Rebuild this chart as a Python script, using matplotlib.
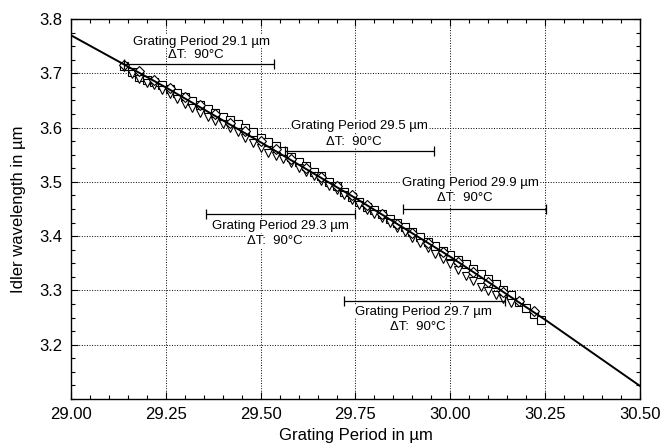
import numpy as np
import matplotlib
matplotlib.use("Agg")
import matplotlib.pyplot as plt
from matplotlib.ticker import MultipleLocator

plt.rcParams['font.family'] = ['Liberation Sans', 'DejaVu Sans']

# fitted tuning curve
fit_x = [29.00, 29.25, 29.50, 29.75, 30.00, 30.25, 30.50]
fit_y = [3.770, 3.674, 3.573, 3.470, 3.362, 3.246, 3.124]

# measured points, squares
sq_x = [29.14, 29.16, 29.18, 29.20, 29.22, 29.24, 29.26, 29.28, 29.30, 29.32,
        29.34, 29.36, 29.38, 29.40, 29.42, 29.44, 29.46, 29.48, 29.50, 29.52,
        29.54, 29.56, 29.58, 29.60, 29.62, 29.64, 29.66, 29.68, 29.70, 29.72,
        29.74, 29.76, 29.78, 29.80, 29.82, 29.84, 29.86, 29.88, 29.90, 29.92,
        29.94, 29.96, 29.98, 30.00, 30.02, 30.04, 30.06, 30.08, 30.10, 30.12,
        30.14, 30.16, 30.18, 30.20, 30.22, 30.24]
sq_y = [3.713, 3.703, 3.693, 3.688, 3.684, 3.678, 3.671, 3.664, 3.657, 3.649,
        3.641, 3.634, 3.627, 3.620, 3.614, 3.607, 3.600, 3.591, 3.581, 3.573,
        3.566, 3.556, 3.545, 3.536, 3.529, 3.519, 3.510, 3.500, 3.492, 3.482,
        3.472, 3.462, 3.454, 3.448, 3.440, 3.432, 3.424, 3.417, 3.408, 3.399,
        3.390, 3.382, 3.373, 3.365, 3.356, 3.348, 3.339, 3.330, 3.321, 3.311,
        3.301, 3.291, 3.279, 3.268, 3.257, 3.245]

# measured points, down triangles
tri_x = [29.14, 29.16, 29.18, 29.20, 29.22, 29.24, 29.26, 29.28, 29.30, 29.32,
         29.34, 29.36, 29.38, 29.40, 29.42, 29.44, 29.46, 29.48, 29.50, 29.52,
         29.54, 29.56, 29.58, 29.60, 29.62, 29.64, 29.66, 29.68, 29.70, 29.72,
         29.74, 29.76, 29.78, 29.80, 29.82, 29.84, 29.86, 29.88, 29.90, 29.92,
         29.94, 29.96, 29.98, 30.00, 30.02, 30.04, 30.06, 30.08, 30.10, 30.12,
         30.14, 30.16]
tri_y = [3.711, 3.699, 3.689, 3.683, 3.678, 3.670, 3.661, 3.652, 3.644, 3.636,
         3.627, 3.619, 3.612, 3.606, 3.600, 3.591, 3.581, 3.571, 3.562, 3.554,
         3.548, 3.542, 3.534, 3.526, 3.519, 3.510, 3.502, 3.493, 3.485, 3.475,
         3.467, 3.457, 3.448, 3.441, 3.433, 3.424, 3.415, 3.407, 3.397, 3.388,
         3.378, 3.368, 3.358, 3.348, 3.338, 3.327, 3.317, 3.307, 3.299, 3.291,
         3.284, 3.277]

# measured points, diamonds
dia_x = [29.14, 29.18, 29.22, 29.26, 29.30, 29.34, 29.38, 29.42, 29.46, 29.50,
         29.54, 29.58, 29.62, 29.66, 29.70, 29.74, 29.78, 29.82, 29.86, 29.90,
         29.94, 29.98, 30.02, 30.06, 30.10, 30.14, 30.18, 30.22]
dia_y = [3.715, 3.704, 3.688, 3.673, 3.657, 3.641, 3.625, 3.609, 3.593, 3.576,
         3.560, 3.543, 3.526, 3.509, 3.492, 3.475, 3.458, 3.440, 3.423, 3.405,
         3.388, 3.370, 3.352, 3.334, 3.316, 3.298, 3.280, 3.262]

# tuning range bars for each grating period
periods = ['29.1', '29.5', '29.9', '29.3', '29.7']
bar_lo = [29.14, 29.564, 29.876, 29.356, 29.72]
bar_hi = [29.536, 29.958, 30.252, 29.749, 30.144]
bar_y = [3.7166, 3.557, 3.450, 3.441, 3.281]
label_x = [29.345, 29.761, 30.052, 29.551, 29.928]
label_y1 = [3.758, 3.6035, 3.4985, 3.419, 3.261]
label_y2 = [3.734, 3.574, 3.470, 3.391, 3.232]

fig = plt.figure(figsize=(6.71, 4.43), dpi=100)
ax = fig.add_axes([0.1058, 0.0993, 0.848, 0.8578])

ax.plot(sq_x, sq_y, ls='none', marker='s', ms=5.5, mfc='white', mec='black', mew=0.8, zorder=3)
ax.plot(tri_x, tri_y, ls='none', marker='v', ms=6.0, mfc='white', mec='black', mew=0.8, zorder=3)
ax.plot(dia_x, dia_y, ls='none', marker='D', ms=4.8, mfc='white', mec='black', mew=0.8, zorder=3)
ax.plot(fit_x, fit_y, color='black', lw=1.4, zorder=4)

for i, p in enumerate(periods):
    mid = (bar_lo[i] + bar_hi[i]) / 2
    half = (bar_hi[i] - bar_lo[i]) / 2
    ax.errorbar(mid, bar_y[i], xerr=half, fmt='none', ecolor='black',
                elinewidth=0.9, capsize=3.5, capthick=0.9, zorder=5)
    box = dict(facecolor='white', edgecolor='none', pad=0.5)
    ax.text(label_x[i], label_y1[i], 'Grating Period ' + p + ' \u00b5m',
            ha='center', va='center', fontsize=9.5, bbox=box, zorder=2)
    ax.text(label_x[i] - 0.015, label_y2[i], '\u0394T:  90\u00b0C',
            ha='center', va='center', fontsize=9.5, bbox=box, zorder=2)

ax.set_xlim(29.0, 30.5)
ax.set_ylim(3.1, 3.8)
ax.xaxis.set_major_locator(MultipleLocator(0.25))
ax.xaxis.set_minor_locator(MultipleLocator(0.05))
ax.yaxis.set_major_locator(MultipleLocator(0.1))
ax.yaxis.set_minor_locator(MultipleLocator(0.025))
ax.set_xticks([29.0, 29.25, 29.5, 29.75, 30.0, 30.25, 30.5])
ax.set_xticklabels(['29.00', '29.25', '29.50', '29.75', '30.00', '30.25', '30.50'])
ax.set_yticks([3.2, 3.3, 3.4, 3.5, 3.6, 3.7, 3.8])
ax.set_yticklabels(['3.2', '3.3', '3.4', '3.5', '3.6', '3.7', '3.8'])
ax.tick_params(which='both', direction='in', top=True, right=True, labelsize=12, width=0.8)
ax.tick_params(which='major', length=5, pad=6)
ax.tick_params(which='minor', length=3)
ax.grid(True, which='major', color='black', ls=':', lw=0.7, zorder=1)
ax.set_axisbelow(True)
for s in ax.spines.values():
    s.set_linewidth(1.0)

ax.set_xlabel('Grating Period in \u00b5m', fontsize=12, labelpad=4)
ax.set_ylabel('Idler wavelength in \u00b5m', fontsize=12, labelpad=10)

fig.savefig('out.png', dpi=100)
